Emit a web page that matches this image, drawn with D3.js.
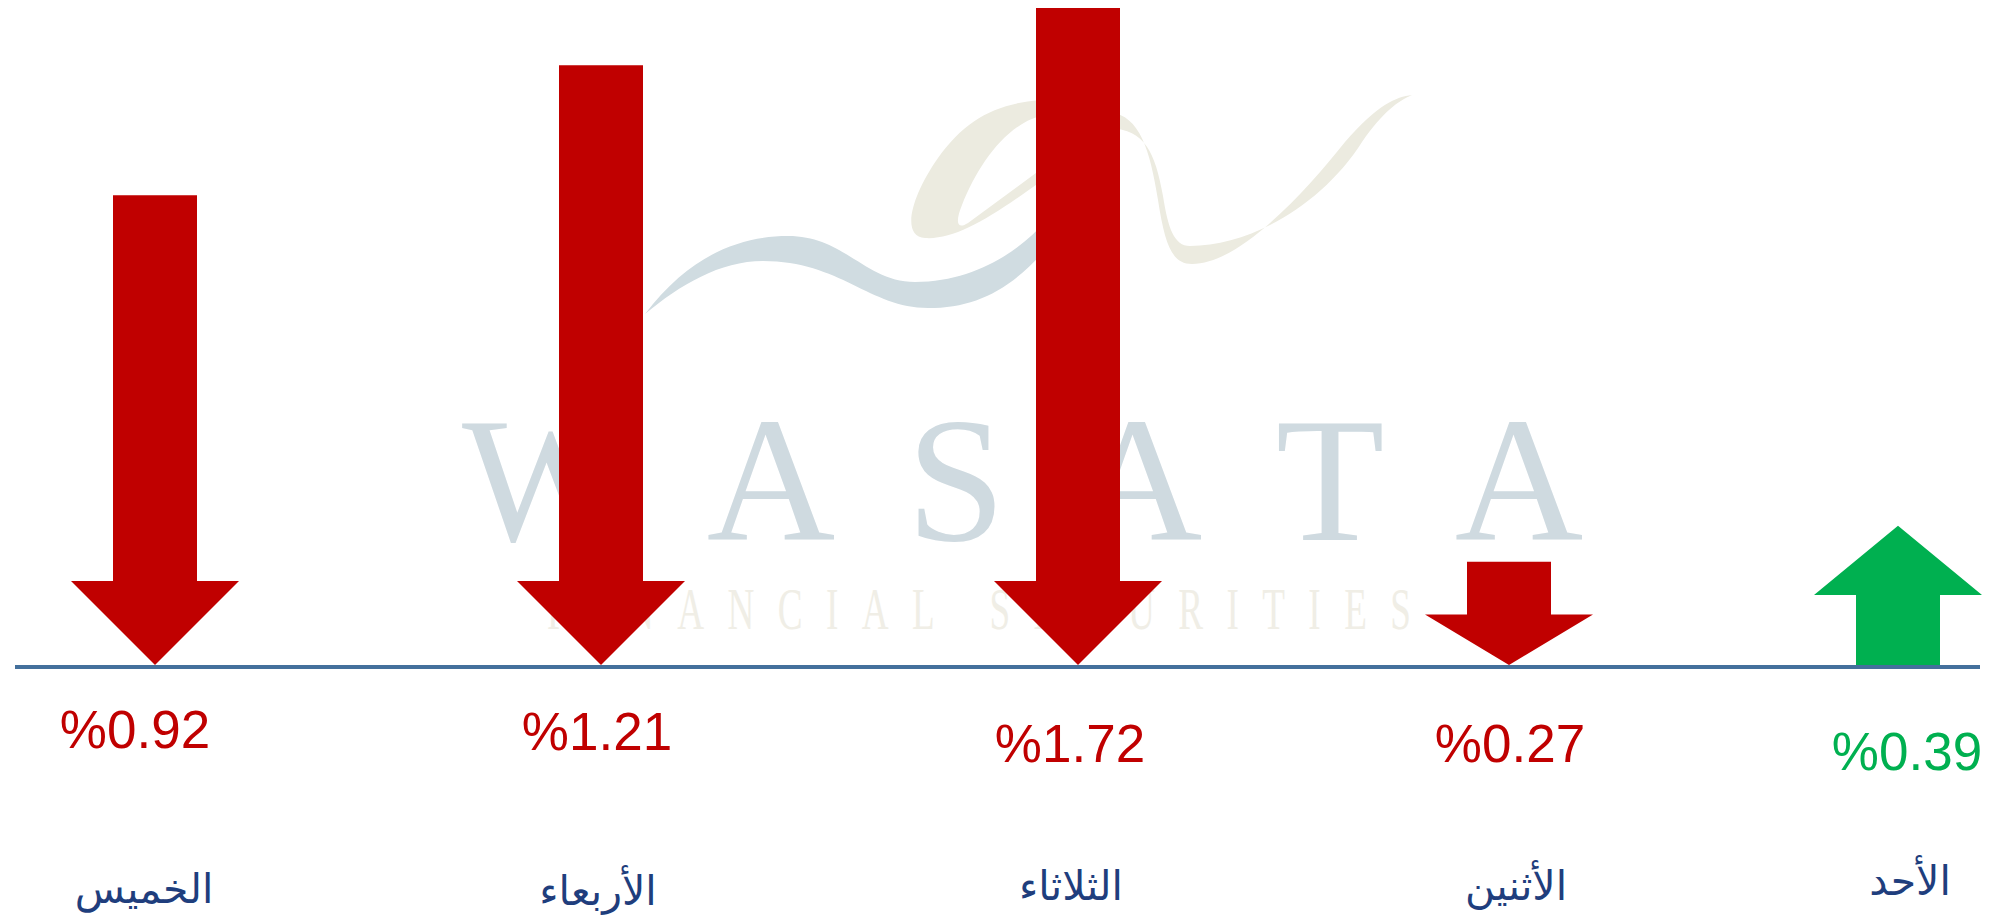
<!DOCTYPE html>
<html>
<head>
<meta charset="utf-8">
<script src="https://cdn.jsdelivr.net/npm/d3@7"></script>
<style>
	body { margin: 0; background: #fff; }
	svg { display: block; }
</style>
</head>
<body>
<div id="chart"></div>
<script>
// weekly change of the index, one arrow per trading day
var days = ["الخميس", "الأربعاء", "الثلاثاء", "الأثنين", "الأحد"];
var changes = [-0.92, -1.21, -1.72, -0.27, 0.39];
// arrow length as drawn in the original slide, in % units
var arrowSize = [1.23, 1.57, 1.72, 0.27, 0.37];

// layout nudges of the text boxes, relative to the arrow centre / base line
var valueDx = [-20, -4, -8, 1, 9];
var valueDy = [81, 83, 95, 95, 103];
var dayDx = [-11, -3, -7, 7, 12];
var dayDy = [236, 238, 233, 233, 228];

var width = 1993, height = 918;
var baseY = 667;

var svg = d3.select("#chart")
	.append("svg")
	.attr("width", width)
	.attr("height", height);

// watermark logo behind the chart
var mark = svg.append("g").attr("class", "watermark");

mark.append("path")
	.attr("d", "M645,314 C690,255 740,236 788,236 C845,236 865,282 915,282 C975,282 1020,250 1045,222 L1045,250 C1010,290 975,308 928,308 C870,308 840,261 763,261 C720,261 680,285 645,314 Z")
	.attr("fill", "#d0dce1");

mark.append("path")
	.attr("d", "M925,238 C900,236 912,195 938,158 C965,120 995,104 1040,100 L1040,116 C1005,126 978,165 962,205 C955,222 957,230 968,223 L1040,170 L1040,182 C990,218 955,240 925,238 Z")
	.attr("fill", "#ecebe0");

mark.append("path")
	.attr("d", "M1110,112 C1140,116 1150,150 1158,200 C1165,245 1172,264 1192,264 C1240,264 1305,192 1345,142 C1378,104 1396,97 1412,95 C1398,101 1383,112 1362,142 C1322,205 1250,246 1190,246 C1174,246 1168,228 1163,196 C1155,152 1145,130 1110,128 Z")
	.attr("fill", "#ecebe0");

var letters = ["W", "A", "S", "A", "T", "A"];
var letterX = [546, 771, 956, 1138, 1330, 1519];
mark.selectAll("text.big")
	.data(letters)
	.enter()
	.append("text")
	.attr("class", "big")
	.attr("x", function (d, i) { return letterX[i]; })
	.attr("y", 540)
	.attr("text-anchor", "middle")
	.style("font-family", "'Liberation Serif', 'DejaVu Serif', serif")
	.style("font-size", "178px")
	.style("fill", "#cfdae0")
	.text(function (d) { return d; });

// condensed, widely spaced sub line
mark.append("g")
	.attr("transform", "translate(547,629) scale(0.62,1)")
	.append("text")
	.attr("x", 0)
	.attr("y", 0)
	.attr("textLength", 864 / 0.62)
	.attr("lengthAdjust", "spacing")
	.style("font-family", "'Liberation Serif', 'DejaVu Serif', serif")
	.style("font-size", "60px")
	.style("fill", "#f0eee6")
	.text("FINANCIAL SECURITIES");

// x position of each day column (the slide is laid out by hand)
var x = d3.scaleOrdinal()
	.domain(days)
	.range([155, 601, 1078, 1509, 1898]);

// arrow length
var y = d3.scaleLinear()
	.domain([0, d3.max(arrowSize)])
	.range([0, 657]);

var shaftW = 84, headW = 168, headMax = 84;
var line = d3.line();

function arrowPoints(cx, len, up) {
	var hh = Math.min(headMax, len * 0.49);
	if (up) {
		var tip = baseY - len, hb = tip + hh;
		return [[cx - shaftW / 2, baseY], [cx - shaftW / 2, hb], [cx - headW / 2, hb], [cx, tip],
			[cx + headW / 2, hb], [cx + shaftW / 2, hb], [cx + shaftW / 2, baseY]];
	}
	var y0 = baseY - 2, top = y0 - len, ht = y0 - hh;
	return [[cx - shaftW / 2, top], [cx + shaftW / 2, top], [cx + shaftW / 2, ht], [cx + headW / 2, ht],
		[cx, y0], [cx - headW / 2, ht], [cx - shaftW / 2, ht]];
}

function colour(v) { return v < 0 ? "#c00000" : "#00b050"; }

// arrows
svg.append("g")
	.selectAll("path")
	.data(days)
	.enter()
	.append("path")
	.attr("d", function (d, i) {
		return line(arrowPoints(x(d), y(arrowSize[i]), changes[i] > 0)) + "Z";
	})
	.style("fill", function (d, i) { return colour(changes[i]); });

// base line
svg.append("line")
	.attr("x1", 15)
	.attr("x2", 1980)
	.attr("y1", baseY)
	.attr("y2", baseY)
	.style("stroke", "#44709c")
	.style("stroke-width", 4);

// percentage labels
svg.append("g")
	.selectAll("text")
	.data(days)
	.enter()
	.append("text")
	.attr("x", function (d, i) { return x(d) + valueDx[i]; })
	.attr("y", function (d, i) { return baseY + valueDy[i]; })
	.attr("text-anchor", "middle")
	.style("font-family", "'Liberation Sans', Arial, sans-serif")
	.style("font-size", "53px")
	.style("fill", function (d, i) { return colour(changes[i]); })
	.text(function (d, i) { return "%" + Math.abs(changes[i]).toFixed(2); });

// day names
svg.append("g")
	.selectAll("text")
	.data(days)
	.enter()
	.append("text")
	.attr("x", function (d, i) { return x(d) + dayDx[i]; })
	.attr("y", function (d, i) { return baseY + dayDy[i]; })
	.attr("text-anchor", "middle")
	.attr("direction", "rtl")
	.style("font-family", "'DejaVu Sans', sans-serif")
	.style("font-size", "41px")
	.style("fill", "#1f3e7d")
	.text(function (d) { return d; });
</script>
</body>
</html>
